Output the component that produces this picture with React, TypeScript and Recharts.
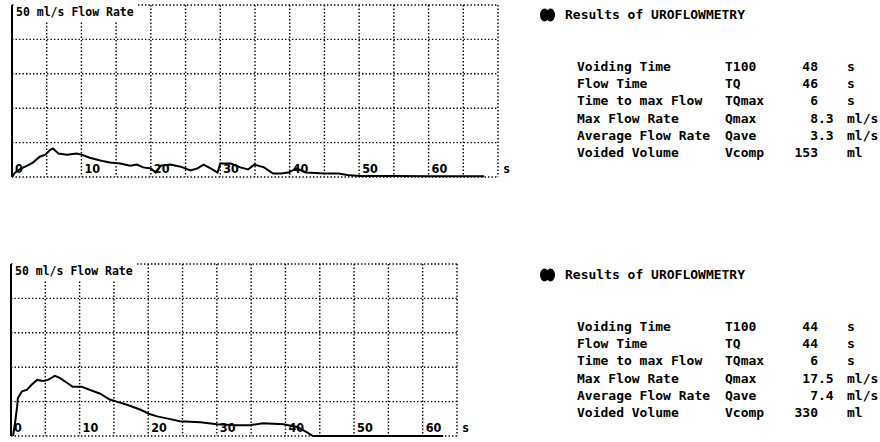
import { LineChart, Line, XAxis, YAxis, CartesianGrid, ReferenceLine } from 'recharts'

// first measurement (upper trace)
const topTime = [0, 0.4, 1.2, 2.2, 3, 4, 4.8, 5.5, 5.9, 6.7, 7.9, 9.3, 10, 11.2, 12.7, 14.1, 15.6, 17, 18, 18.9, 20, 20.7, 21.4, 22.8, 24.3, 25.7, 26.7, 27.6, 28.6, 29.6, 30, 31.5, 32.9, 34, 34.9, 36.3, 37.6, 38.8, 39.8, 41, 42.3, 45, 47, 48.3, 50, 55, 60, 65, 68]
const topFlow = [0, 1.2, 2.4, 3.3, 4.2, 5.9, 6.5, 7.9, 8.3, 6.8, 6.5, 6.8, 6.5, 5.6, 4.8, 4.2, 3.9, 3.3, 3.6, 2.8, 2.5, 1.3, 3.3, 3.6, 3, 1.9, 2.5, 3.6, 2.5, 1.3, 3.9, 3.9, 2.8, 2.2, 3.6, 2.8, 1, 1, 1.3, 2.5, 1.3, 1, 1, 0.6, 0.3, 0.3, 0.2, 0.2, 0.2]

// second measurement (lower trace)
const bottomTime = [0.3, 0.6, 0.9, 1, 1.6, 2.3, 3, 3.8, 4.7, 5.4, 6.4, 7.1, 8.2, 9, 10.3, 11.5, 13, 14.4, 15.4, 16.9, 18.8, 20.3, 21.3, 23.2, 24.6, 27.6, 30, 32.9, 34.8, 36.7, 39.7, 41.7, 43.1, 44, 50, 55, 60, 63]
const bottomFlow = [0, 4, 8.6, 11, 13, 13.4, 14.9, 16.3, 16, 16.3, 17.5, 16.9, 15.4, 14.3, 14.3, 13.4, 12.3, 10.6, 10, 9.1, 7.7, 6.3, 5.7, 4.9, 4.3, 4, 3.4, 3.1, 3.1, 3.7, 3.4, 2.6, 1.1, 0, 0, 0, 0, 0]

const topXTicks = [0, 5, 10, 15, 20, 25, 30, 35, 40, 45, 50, 55, 60, 65, 70]
const bottomXTicks = [0, 5, 10, 15, 20, 25, 30, 35, 40, 45, 50, 55, 60, 65]
const xLabels = [0, 10, 20, 30, 40, 50, 60]
const yTicks = [0, 10, 20, 30, 40, 50]

const paramNames = ['Voiding Time', 'Flow Time', 'Time to max Flow', 'Max Flow Rate', 'Average Flow Rate', 'Voided Volume']
const paramCodes = ['T100', 'TQ', 'TQmax', 'Qmax', 'Qave', 'Vcomp']
const topValues = ['48', '46', '6', '8.3', '3.3', '153']
const bottomValues = ['44', '44', '6', '17.5', '7.4', '330']
const paramUnits = ['s', 's', 's', 'ml/s', 'ml/s', 'ml']

const MONO = '"DejaVu Sans Mono", monospace'

function FlowTick(props: any) {
  const { x, y, payload } = props
  if (!xLabels.includes(payload.value)) return <g />
  return (
    <text x={x + 3} y={y + 4} fontFamily='"DejaVu Sans Condensed", sans-serif' fontWeight="bold" fontSize={12.5} fill="#000">
      {payload.value}
    </text>
  )
}

interface FlowProps {
  time: number[]
  flow: number[]
  xMax: number
  xTicks: number[]
  top: number
  plotLeft: number
  plotRight: number
}

function FlowChart({ time, flow, xMax, xTicks, top, plotLeft, plotRight }: FlowProps) {
  const data = time.map((t, i) => ({ t, flow: flow[i] }))
  const width = 520
  const height = 190
  return (
    <div style={{ position: 'absolute', left: 0, top, width, height }}>
      <LineChart width={width} height={height} data={data} margin={{ top: 5, left: plotLeft, right: width - plotRight, bottom: 13 }}>
        <CartesianGrid stroke="#000" strokeWidth={1.4} strokeDasharray="1.4 2.1" />
        <XAxis dataKey="t" type="number" domain={[0, xMax]} ticks={xTicks} mirror axisLine={false} tickLine={false} tick={<FlowTick />} interval={0} />
        <YAxis type="number" domain={[0, 50]} ticks={yTicks} hide />
        <ReferenceLine x={0} stroke="#000" strokeWidth={2} />
        <Line type="linear" dataKey="flow" stroke="#000" strokeWidth={2} dot={false} isAnimationActive={false} />
      </LineChart>
      <div style={{ position: 'absolute', left: plotLeft + 2, top: 3, width: 122, height: 19, background: '#fff', fontFamily: MONO, fontWeight: 'bold', fontSize: 11.5, lineHeight: '19px', paddingLeft: 2, color: '#000' }}>
        50 ml/s Flow Rate
      </div>
      <div style={{ position: 'absolute', left: plotRight + 5, top: 162, fontFamily: MONO, fontWeight: 'bold', fontSize: 12, color: '#000' }}>s</div>
    </div>
  )
}

function Results({ values, top }: { values: string[]; top: number }) {
  const text = { position: 'absolute' as const, fontFamily: MONO, fontWeight: 'bold' as const, fontSize: 13, color: '#000', whiteSpace: 'pre' as const, lineHeight: '16px' }
  return (
    <div style={{ position: 'absolute', left: 0, top, width: 880, height: 170 }}>
      <svg style={{ position: 'absolute', left: 540, top: 8 }} width={15} height={14}>
        <ellipse cx={4.5} cy={7} rx={4.5} ry={6.5} fill="#000" />
        <ellipse cx={10.5} cy={7} rx={4.5} ry={6.5} fill="#000" />
      </svg>
      <div style={{ ...text, left: 565, top: 7 }}>Results of UROFLOWMETRY</div>
      {paramNames.map((name, i) => {
        const [whole, frac] = values[i].split('.')
        const y = 59 + i * 17.2
        return (
          <div key={name}>
            <div style={{ ...text, left: 577, top: y }}>{name}</div>
            <div style={{ ...text, left: 725, top: y }}>{paramCodes[i]}</div>
            <div style={{ ...text, right: 880 - 818, top: y }}>{whole}</div>
            {frac && <div style={{ ...text, left: 818, top: y }}>{'.' + frac}</div>}
            <div style={{ ...text, left: 847, top: y }}>{paramUnits[i]}</div>
          </div>
        )
      })}
    </div>
  )
}

export default function App() {
  return (
    <div style={{ position: 'absolute', left: 0, top: 0, width: 880, height: 442, overflow: 'hidden', background: '#fff' }}>
      <FlowChart time={topTime} flow={topFlow} xMax={70} xTicks={topXTicks} top={0} plotLeft={12} plotRight={498} />
      <FlowChart time={bottomTime} flow={bottomFlow} xMax={65} xTicks={bottomXTicks} top={259} plotLeft={11} plotRight={457} />
      <Results values={topValues} top={0} />
      <Results values={bottomValues} top={260} />
    </div>
  )
}
